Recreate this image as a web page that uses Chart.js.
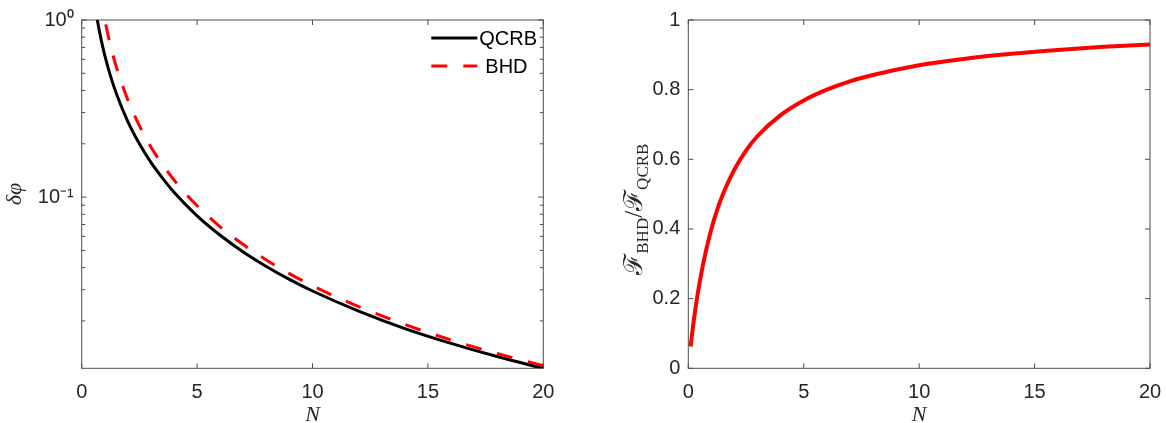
<!DOCTYPE html>
<html>
<head>
<meta charset="utf-8">
<script src="https://cdn.jsdelivr.net/npm/chart.js@4.4.1/dist/chart.umd.min.js"></script>
<style>
  body { margin: 0; background: #fff; }
  #wrap { position: relative; width: 1166px; height: 423px; }
  canvas { position: absolute; top: 0; }
  #chartDelta { left: 0; }
  #chartRatio { left: 583px; }
</style>
</head>
<body>
<div id="wrap">
  <canvas id="chartDelta" width="560" height="423"></canvas>
  <canvas id="chartRatio" width="583" height="423"></canvas>
</div>
<script>
// left panel: phase sensitivity vs N
var nLeft = [0.6, 0.7, 0.8, 0.9, 1, 1.25, 1.5, 2, 2.5, 3, 3.5, 4, 5, 6, 7, 8, 9, 10, 12, 14, 16, 18, 20];
var qcrb  = [1.150, 0.963, 0.824, 0.717, 0.632, 0.482, 0.385, 0.267, 0.200, 0.157, 0.128, 0.1066, 0.0784, 0.0609, 0.0490, 0.0406, 0.0343, 0.0295, 0.0227, 0.0181, 0.01494, 0.01258, 0.01078];
var bhd   = [2.15, 1.71, 1.40, 1.171, 1.000, 0.716, 0.544, 0.354, 0.253, 0.192, 0.153, 0.125, 0.0894, 0.0680, 0.0540, 0.0442, 0.0370, 0.0316, 0.0241, 0.0191, 0.01563, 0.01309, 0.01118];

// right panel: Fisher information ratio vs N
var nRight = [0.1, 0.2, 0.3, 0.5, 0.75, 1, 1.25, 1.5, 2, 2.5, 3, 4, 5, 6, 7, 8, 10, 12, 14, 16, 18, 20];
var ratio  = [0.0625, 0.118, 0.167, 0.250, 0.333, 0.400, 0.455, 0.500, 0.571, 0.625, 0.667, 0.727, 0.769, 0.800, 0.824, 0.842, 0.870, 0.889, 0.903, 0.914, 0.923, 0.930];

// ticks
var nTicks = [0, 5, 10, 15, 20];
var logTicks = [0.02, 0.03, 0.04, 0.05, 0.06, 0.07, 0.08, 0.09, 0.1, 0.2, 0.3, 0.4, 0.5, 0.6, 0.7, 0.8, 0.9, 1];
var ratioTicks = [0, 0.2, 0.4, 0.6, 0.8, 1];

var axisColor = '#262626';
var tickFont = { family: 'Liberation Sans', size: 20 };

function pts(xs, ys) {
    return xs.map(function (x, i) { return { x: x, y: ys[i] }; });
}

// matlab style box with inward ticks on all four sides
const boxTicks = {
    id: 'boxTicks',
    beforeDatasetsDraw(chart) {
        const ctx = chart.ctx, a = chart.chartArea, sx = chart.scales.x, sy = chart.scales.y;
        ctx.save();
        ctx.strokeStyle = '#4d4d4d';
        ctx.lineWidth = 1;
        ctx.beginPath();
        sx.ticks.forEach(function (t) {
            const px = sx.getPixelForValue(t.value);
            ctx.moveTo(px, a.bottom); ctx.lineTo(px, a.bottom - 5);
            ctx.moveTo(px, a.top); ctx.lineTo(px, a.top + 5);
        });
        sy.ticks.forEach(function (t) {
            const py = sy.getPixelForValue(t.value);
            const len = t.label === '' ? 3.5 : 5;
            ctx.moveTo(a.left, py); ctx.lineTo(a.left + len, py);
            ctx.moveTo(a.right, py); ctx.lineTo(a.right - len, py);
        });
        ctx.stroke();
        ctx.strokeRect(a.left, a.top, a.right - a.left, a.bottom - a.top);
        ctx.restore();
    }
};

// legend inside the top right corner, no frame
const cornerLegend = {
    id: 'cornerLegend',
    afterDraw(chart) {
        const ctx = chart.ctx, a = chart.chartArea;
        const rows = [a.top + 18, a.top + 46];
        ctx.save();
        chart.data.datasets.forEach(function (ds, i) {
            const y = rows[i];
            ctx.strokeStyle = ds.borderColor;
            ctx.lineWidth = ds.borderWidth;
            ctx.setLineDash(ds.borderDash || []);
            ctx.beginPath();
            ctx.moveTo(a.right - 112, y);
            ctx.lineTo(a.right - 66, y);
            ctx.stroke();
            ctx.setLineDash([]);
            ctx.fillStyle = '#000';
            ctx.font = '20px "Liberation Sans"';
            ctx.textBaseline = 'middle';
            ctx.fillText(ds.label, a.right - 64 + (i ? 6 : 0), y + 1);
        });
        ctx.restore();
    }
};

// y label with subscripts for the right panel
const ratioLabel = {
    id: 'ratioLabel',
    afterDraw(chart) {
        const ctx = chart.ctx, a = chart.chartArea;
        const main = '26px "DejaVu Serif", serif';
        const sub = '17px "Liberation Serif", serif';
        const parts = [['\u2131', main, 0], ['BHD', sub, 6], ['/', '25px "Liberation Serif", serif', 0], ['\u2131', main, 0], ['QCRB', sub, 6]];
        let total = 0;
        parts.forEach(function (p) { ctx.font = p[1]; total += ctx.measureText(p[0]).width; });
        ctx.save();
        ctx.translate(59, (a.top + a.bottom) / 2 + 15);
        ctx.rotate(-Math.PI / 2);
        ctx.fillStyle = axisColor;
        ctx.textBaseline = 'alphabetic';
        let x = -total / 2;
        parts.forEach(function (p) {
            ctx.font = p[1];
            ctx.fillText(p[0], x, p[2]);
            x += ctx.measureText(p[0]).width;
        });
        ctx.restore();
    }
};

function xScale() {
    return {
        type: 'linear', min: 0, max: 20,
        afterBuildTicks: function (s) { s.ticks = nTicks.map(function (v) { return { value: v }; }); },
        afterFit: function (s) { s.height = 54.7; s.paddingLeft = 0; s.paddingRight = 0; },
        grid: { display: false, drawTicks: false },
        border: { display: false },
        ticks: { color: axisColor, font: tickFont, padding: 12, maxRotation: 0, autoSkip: false },
        title: { display: true, text: 'N', color: axisColor, padding: 0,
                 font: { family: 'Liberation Serif', size: 22, style: 'italic', lineHeight: 0.75 } }
    };
}

new Chart(document.getElementById('chartDelta').getContext('2d'), {
    type: 'line',
    data: {
        datasets: [{
            label: 'QCRB',
            data: pts(nLeft, qcrb),
            borderColor: '#000000',
            borderWidth: 3,
            pointRadius: 0,
            cubicInterpolationMode: 'monotone',
            order: 2
        }, {
            label: 'BHD',
            data: pts(nLeft, bhd),
            borderColor: '#ff0000',
            borderWidth: 3,
            borderDash: [16, 16],
            borderCapStyle: 'butt',
            pointRadius: 0,
            cubicInterpolationMode: 'monotone',
            order: 1
        }]
    },
    options: {
        responsive: false,
        animation: false,
        layout: { padding: { top: 15.3, right: 16.7, left: 0, bottom: 0 } },
        plugins: { legend: { display: false }, tooltip: { enabled: false } },
        scales: {
            x: xScale(),
            y: {
                type: 'logarithmic', min: 0.0108, max: 1,
                afterBuildTicks: function (s) { s.ticks = logTicks.map(function (v) { return { value: v }; }); },
                afterFit: function (s) { s.width = 81.7; },
                grid: { display: false, drawTicks: false },
                border: { display: false },
                ticks: {
                    color: axisColor, font: tickFont, padding: 8, autoSkip: false,
                    callback: function (v) { return v === 1 ? '10\u2070' : (v === 0.1 ? '10\u207B\u00B9' : ''); }
                },
                title: { display: true, text: '\u03B4\u03C6', color: axisColor, padding: { top: 2 },
                         font: { family: 'Liberation Serif', size: 22, style: 'italic' } }
            }
        }
    },
    plugins: [boxTicks, cornerLegend]
});

new Chart(document.getElementById('chartRatio').getContext('2d'), {
    type: 'line',
    data: {
        datasets: [{
            label: 'F_BHD / F_QCRB',
            data: pts(nRight, ratio),
            borderColor: '#ff0000',
            borderWidth: 4,
            borderCapStyle: 'butt',
            pointRadius: 0,
            cubicInterpolationMode: 'monotone'
        }]
    },
    options: {
        responsive: false,
        animation: false,
        layout: { padding: { top: 15.3, right: 16, left: 0, bottom: 0 } },
        plugins: { legend: { display: false }, tooltip: { enabled: false } },
        scales: {
            x: xScale(),
            y: {
                type: 'linear', min: 0, max: 1,
                afterBuildTicks: function (s) { s.ticks = ratioTicks.map(function (v) { return { value: v }; }); },
                afterFit: function (s) { s.width = 105.3; },
                grid: { display: false, drawTicks: false },
                border: { display: false },
                ticks: { color: axisColor, font: tickFont, padding: 8, autoSkip: false,
                         callback: function (v) { return String(v); } }
            }
        }
    },
    plugins: [boxTicks, ratioLabel]
});
</script>
</body>
</html>
